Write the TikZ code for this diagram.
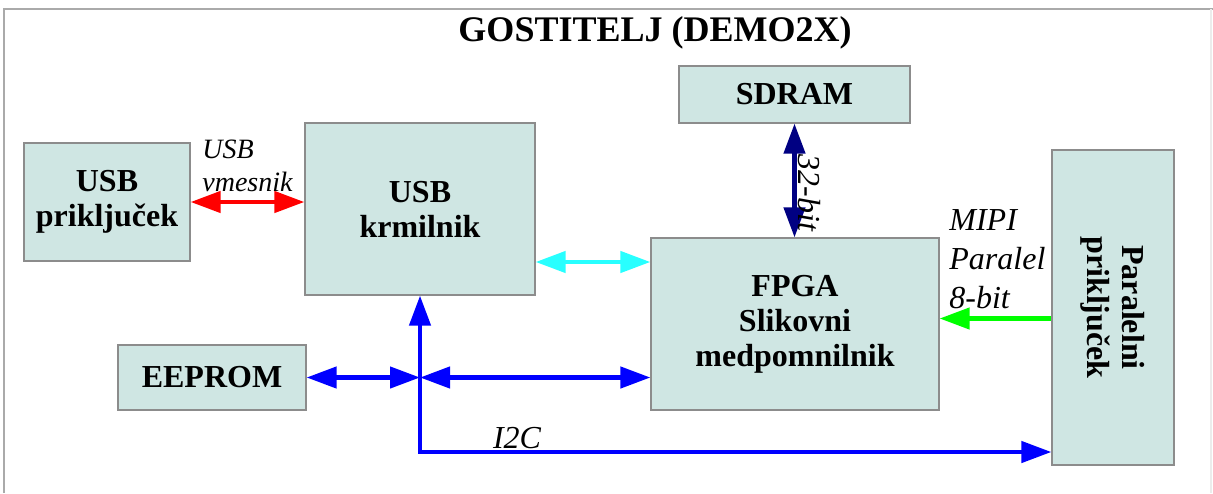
\documentclass[tikz,border=0pt]{standalone}
\usepackage{fontspec}
\setmainfont{Liberation Serif}
\usetikzlibrary{arrows.meta}

\definecolor{blokfill}{RGB}{207,230,227}
\definecolor{blokrob}{RGB}{140,140,140}
\definecolor{okvirsiva}{RGB}{170,170,170}
\definecolor{cyanbus}{RGB}{40,255,255}
\definecolor{navybus}{RGB}{0,0,130}

\tikzset{
  blok/.style={draw=blokrob,fill=blokfill,line width=0.6pt,inner sep=0pt,
    align=center,font=\fontsize{16}{17.5}\selectfont\bfseries},
  oznaka/.style={inner sep=0pt,align=left,font=\fontsize{16}{19.5}\selectfont\itshape},
  vodilo/.style={line width=2.2pt,line join=miter,
    {Triangle[length=15pt,width=10.5pt]}-{Triangle[length=15pt,width=10.5pt]}},
  enosmerno/.style={line width=2.2pt,line join=miter,-{Triangle[length=15pt,width=10.5pt]}}
}

\begin{document}
\begin{tikzpicture}[x=0.5pt,y=-0.5pt]
  \useasboundingbox (0,0) rectangle (1213,493);
  % okvir
  \draw[okvirsiva,line width=1pt] (4,493) -- (4,9) -- (1213,9);
  \draw[gray!15,line width=0.6pt] (1211,9) -- (1211,493);
  \node[font=\fontsize{18}{20}\selectfont\bfseries] (naslov) at (655,33) {GOSTITELJ (DEMO2X)};

  % bloki
  \node[blok,minimum width=83pt,minimum height=59pt] (usbpri) at (107,202) {USB\\priključek};
  \node[blok,minimum width=115pt,minimum height=86pt] (usbkrm) at (420,209) {USB\\krmilnik};
  \node[blok,minimum width=115.5pt,minimum height=28.5pt] (sdram) at (794.5,94.5) {SDRAM};
  \node[blok,minimum width=144pt,minimum height=86pt] (fpga) at (795,324) {FPGA\\Slikovni\\medpomnilnik};
  \node[blok,minimum width=94pt,minimum height=32.5pt] (eeprom) at (212,377.5) {EEPROM};
  \node[blok,minimum width=61pt,minimum height=157.5pt] (par) at (1113,307.5) {};
  \node[rotate=-90,align=center,font=\fontsize{16}{17.5}\selectfont\bfseries] (partext) at (par.center) {Paralelni\\priključek};

  % povezave
  \draw[vodilo,red] (usbpri.east) -- (usbpri.east -| usbkrm.west);
  \coordinate (cy) at ([yshift=-26.5pt]usbkrm.east);
  \draw[vodilo,cyanbus] (cy) -- (cy -| fpga.west);
  \draw[vodilo,navybus] (sdram.south) -- (sdram.south |- fpga.north);
  \coordinate (gr) at ([yshift=-5.5pt]par.west);
  \draw[enosmerno,green] (gr) -- (gr -| fpga.east);
  \coordinate (spoj) at (eeprom.east -| usbkrm.south);
  \coordinate (kot) at (usbkrm.south |- 0,452);
  \draw[vodilo,blue] (eeprom.east) -- (spoj);
  \draw[vodilo,blue] (spoj) -- (spoj -| fpga.west);
  \draw[vodilo,blue] (usbkrm.south) -- (kot) -- (kot -| par.west);

  % oznake
  \node[oznaka,anchor=north west,font=\fontsize{14}{16.5}\selectfont\itshape] (lusb) at (202,140) {USB\\vmesnik};
  \node[oznaka,rotate=-90] (l32) at (809,193) {32-bit};
  \node[oznaka,anchor=north west] (lmipi) at (949,209) {MIPI\\Paralel\\8-bit};
  \node[oznaka] (li2c) at (517,438) {I2C};
\end{tikzpicture}
\end{document}
